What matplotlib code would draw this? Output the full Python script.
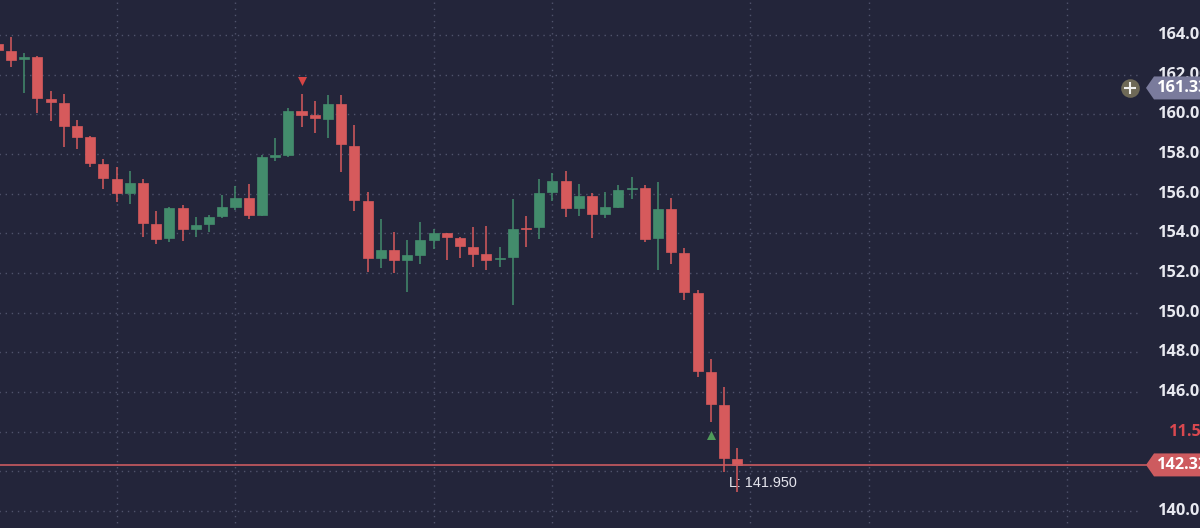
import numpy as np
import matplotlib
matplotlib.use("Agg")
import matplotlib.pyplot as plt
from matplotlib.patches import Polygon

# OHLC values, first (partial) candle sits at index -1
opens = [163.55, 163.21, 162.77, 162.91, 160.79, 160.57, 159.43, 158.86, 157.49, 156.74,
         156.02, 156.54, 154.45, 153.75, 155.26, 154.20, 154.45, 154.87, 155.34, 155.76,
         154.92, 157.86, 157.95, 160.17, 159.95, 159.76, 160.50, 158.40, 155.63, 152.74,
         153.16, 152.65, 152.91, 153.66, 154.00, 153.75, 153.32, 152.94, 152.70, 152.82,
         154.27, 154.30, 156.10, 156.64, 155.29, 155.88, 154.97, 155.34, 156.22, 156.30,
         153.78, 155.24, 152.99, 150.97, 146.99, 145.34, 142.60]
highs = [163.70, 163.90, 163.11, 162.95, 161.18, 161.01, 159.71, 158.90, 157.75, 157.36,
         157.16, 156.74, 155.12, 155.34, 155.43, 154.81, 154.92, 155.93, 156.39, 156.47,
         157.95, 158.82, 160.33, 161.02, 160.69, 160.96, 160.97, 159.46, 156.07, 154.71,
         154.08, 153.66, 154.57, 154.20, 154.03, 153.83, 154.30, 154.37, 153.29, 155.73,
         154.87, 156.74, 157.06, 157.16, 156.47, 156.02, 156.10, 156.44, 156.82, 156.44,
         156.60, 155.76, 153.26, 151.14, 147.66, 146.23, 143.17]
lows = [163.10, 162.39, 161.09, 160.05, 159.68, 158.37, 158.25, 157.33, 156.22, 155.59,
        155.48, 153.80, 153.45, 153.58, 153.63, 153.83, 154.08, 154.76, 155.18, 154.71,
        154.87, 157.65, 157.86, 159.38, 159.04, 158.79, 157.08, 155.14, 152.06, 152.27,
        152.01, 151.06, 152.44, 153.21, 152.65, 152.74, 152.28, 152.15, 152.28, 150.38,
        153.32, 153.71, 155.64, 154.84, 154.89, 153.78, 154.79, 155.29, 155.71, 153.58,
        152.15, 152.45, 150.64, 146.74, 144.50, 141.95, 140.97]
closes = [163.24, 162.74, 162.91, 160.84, 160.61, 159.43, 158.86, 157.53, 156.77, 156.02,
          156.54, 154.50, 153.71, 155.26, 154.20, 154.42, 154.81, 155.33, 155.76, 154.92,
          157.86, 157.95, 160.17, 159.95, 159.80, 160.50, 158.50, 155.68, 152.74, 153.16,
          152.65, 152.91, 153.66, 154.00, 153.80, 153.34, 152.96, 152.67, 152.77, 154.22,
          154.20, 156.05, 156.64, 155.26, 155.88, 154.97, 155.34, 156.18, 156.30, 153.73,
          155.24, 153.04, 151.02, 147.04, 145.38, 142.65, 142.32]

price_levels = [140, 142, 144, 146, 148, 150, 152, 154, 156, 158, 160, 162, 164, 166]
label_levels = [140, 146, 148, 150, 152, 154, 156, 158, 160, 162, 164, 166]
time_grid = [8, 17, 32, 41, 56, 65, 80]

sell_signal = (22, 161.68)
buy_signal = (53, 143.83)
last_price = 142.32
cross_price = 161.33
low_label = "L: 141.950"
volume_label = ("11.5M", 144.0)

BG = "#23253a"
RED = "#d65a5c"
GREEN = "#438c6c"
GRID = "#50536c"

fig = plt.figure(figsize=(12, 5.28), dpi=100)
fig.patch.set_facecolor(BG)
ax = fig.add_axes([0, 0, 1, 1])
ax.set_facecolor(BG)
ax.axis("off")

# pixel mapping: x = 11 + 13.205*i, y(164) = 35px, 19.83 px per unit
ax.set_xlim(-11 / 13.205, (1200 - 11) / 13.205)
ax.set_ylim(164 - 493 / 19.83, 164 + 35 / 19.83)

grid_end = (1140 - 11) / 13.205
ax.hlines(price_levels, -1, grid_end, colors=GRID, lw=1.0, linestyles=(0, (1, 3.4)), zorder=0)
ax.vlines(time_grid, 130, 170, colors=GRID, lw=1.0, linestyles=(0, (1, 3.4)), zorder=0)

o = np.array(opens)
h = np.array(highs)
l = np.array(lows)
c = np.array(closes)
x = np.arange(len(o)) - 1
col = np.where(c >= o, GREEN, RED)

ax.vlines(x, l, h, colors=col, lw=1.1, zorder=2)
body = np.maximum(np.abs(c - o), 0.07)
ax.bar(x, body, bottom=np.minimum(o, c), width=0.76, color=col, edgecolor=col, lw=0.5, zorder=3)

# signals
ax.scatter([sell_signal[0]], [sell_signal[1]], marker="v", s=42, color="#d64545", lw=0, zorder=4)
ax.scatter([buy_signal[0]], [buy_signal[1]], marker="^", s=42, color="#4f9a5a", lw=0, zorder=4)

# last price line
ax.axhline(last_price, xmax=1146 / 1200, color="#c95a60", lw=1.2, zorder=4)
ax.text(55 - 0.65, 141.95 - 0.55, low_label, fontsize=10.4, family="Liberation Sans",
        color="#e4e4ec", va="center", ha="left", zorder=5)

yt = ax.get_yaxis_transform()
for lv in label_levels:
    ax.text(1158 / 1200, lv, f"{lv:.2f}", transform=yt, fontsize=11.8, family="Open Sans",
            weight="bold", color="#e8e9f0", va="center", ha="left", zorder=5)
ax.text(1169 / 1200, volume_label[1], volume_label[0], transform=yt, fontsize=11.8,
        family="Open Sans", weight="bold", color="#d9484f", va="center", ha="left", zorder=5)

# price tags
hh = 11.5 / 19.83
for price, fc in [(cross_price, "#7a7b9c"), (last_price, "#cd5b5f")]:
    tag = Polygon([(1146 / 1200, price), (1154 / 1200, price + hh), (1.01, price + hh),
                   (1.01, price - hh), (1154 / 1200, price - hh)],
                  closed=True, transform=yt, facecolor=fc, edgecolor="none", zorder=6)
    ax.add_patch(tag)
    ax.text(1157 / 1200, price, f"{price:.2f}", transform=yt, fontsize=11.8, family="Open Sans",
            weight="bold", color="white", va="center", ha="left", zorder=7)

ax.scatter([1130 / 1200], [cross_price], transform=yt, s=180, color="#6e6957", lw=0, zorder=6)
ax.scatter([1130 / 1200], [cross_price], transform=yt, s=70, marker="+", color="#f0f0f0",
           lw=1.5, zorder=7)

fig.savefig("out.png", dpi=100, facecolor=BG)
